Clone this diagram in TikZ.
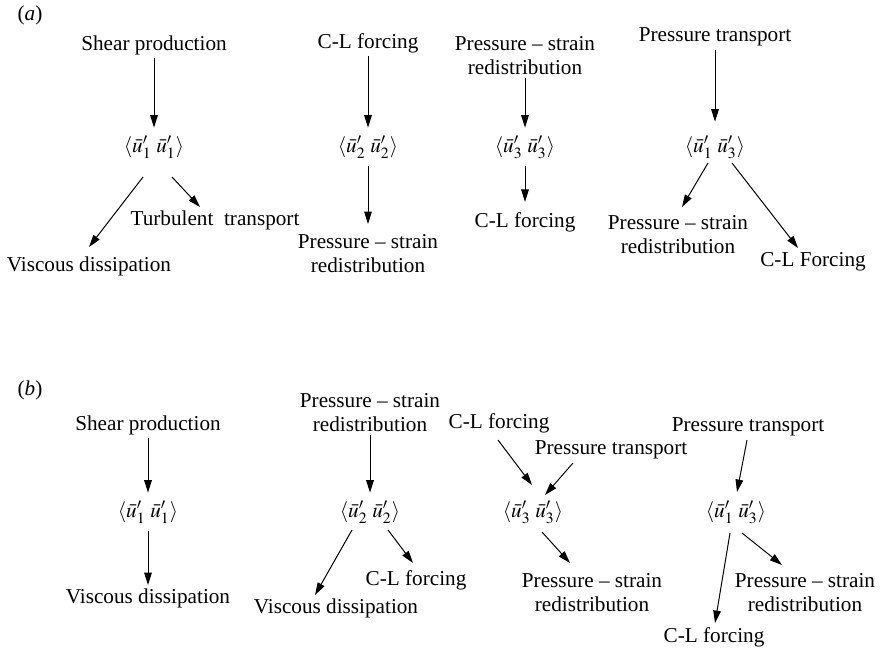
\documentclass[tikz,border=0pt]{standalone}
\usepackage{mathptmx}
\usepackage{fontspec}
\setmainfont{Liberation Serif}
\usetikzlibrary{arrows.meta}
\tikzstyle{term}=[align=center, inner sep=1.5pt, font=\fontsize{10.6}{12}\selectfont]
\tikzstyle{corr}=[inner xsep=1.5pt, inner ysep=4.2pt, text height=8pt, text depth=2.6pt, font=\fontsize{10.6}{12}\selectfont]
\tikzstyle{flow}=[line width=0.5pt, -{Triangle[length=6.2pt,width=3.8pt]}]
\newcommand{\term}{\node[term]}
\newcommand{\corr}{\node[corr]}
\newcommand{\uu}[2]{$\langle\bar{u}'_{#1}\;\bar{u}'_{#2}\rangle$}

\begin{document}
\begin{tikzpicture}[x=0.5pt,y=-0.5pt]
            \useasboundingbox (0,0) rectangle (881,653);
            % (a)
            \term (pa) at (30,15) {(\textit{a})};
            \term (sp) at (154,45) {Shear production};
            \corr (u11) at (154,147) {\uu{1}{1}};
            \term (vd) at (89,266) {Viscous dissipation};
            \term (tt) at (215,220) {Turbulent\ \ transport};
            \term (cl) at (368,43) {C-L forcing};
            \corr (u22) at (368,147) {\uu{2}{2}};
            \term (ps) at (368,253.5) {Pressure -- strain\\redistribution};
            \term (ps3) at (525,55.5) {Pressure -- strain\\redistribution};
            \corr (u33) at (525,147) {\uu{3}{3}};
            \term (cl3) at (525,222) {C-L forcing};
            \term (pt) at (715,37) {Pressure transport};
            \corr (u13) at (715,147) {\uu{1}{3}};
            \term (ps4) at (678,234.5) {Pressure -- strain\\redistribution};
            \term (cf) at (813,262) {C-L Forcing};
            \path[flow]
                (sp.south) edge (u11.north)
                ([shift={(-11,30)}]u11.center) edge ([shift={(0,-19)}]vd.center)
                ([shift={(18,30)}]u11.center) edge ([shift={(-15,-13)}]tt.center)
                (cl.south) edge (u22.north)
                (u22.south) edge[shorten >=3.5pt] (ps.north)
                (ps3.south) edge (u33.north)
                (u33.south) edge[shorten >=3.5pt] (cl3.north)
                (pt.south) edge[shorten >=3pt] (u13.north)
                ([shift={(-7,16)}]u13.center) edge ([shift={(4,-27.5)}]ps4.center)
                ([shift={(17,16)}]u13.center) edge ([shift={(-15,-14)}]cf.center)
            ;
            % (b)
            \term (pb) at (30,390) {(\textit{b})};
            \term (spb) at (148,425) {Shear production};
            \corr (u11b) at (148,512) {\uu{1}{1}};
            \term (vdb) at (148,598) {Viscous dissipation};
            \term (ps2b) at (370,412.5) {Pressure -- strain\\redistribution};
            \corr (u22b) at (370,512) {\uu{2}{2}};
            \term (vd2b) at (336,608) {Viscous dissipation};
            \term (cl2b) at (416,580) {C-L forcing};
            \term (cl3b) at (499,423) {C-L forcing};
            \term (pt3b) at (611,450) {Pressure transport};
            \corr (u33b) at (533,512) {\uu{3}{3}};
            \term (ps3b) at (592,592.5) {Pressure -- strain\\redistribution};
            \term (pt4b) at (748,427) {Pressure transport};
            \corr (u13b) at (736,512) {\uu{1}{3}};
            \term (cl4b) at (714,637) {C-L forcing};
            \term (ps4b) at (805,592.5) {Pressure -- strain\\redistribution};
            \path[flow]
                (spb.south) edge (u11b.north)
                (u11b.south) edge (vdb.north)
                (ps2b.south) edge (u22b.north)
                ([shift={(-18,18)}]u22b.center) edge ([shift={(-21,-13)}]vd2b.center)
                ([shift={(18,18)}]u22b.center) edge ([shift={(-3,-17)}]cl2b.center)
                ([shift={(-1,17)}]cl3b.center) edge ([shift={(-1,-27)}]u33b.center)
                ([shift={(-38,13)}]pt3b.center) edge ([shift={(12,-17)}]u33b.center)
                ([shift={(9,20)}]u33b.center) edge ([shift={(-22,-29.5)}]ps3b.center)
                ([shift={(-1,13)}]pt4b.center) edge ([shift={(1,-20)}]u13b.center)
                ([shift={(-6,21)}]u13b.center) edge ([shift={(1,-14)}]cl4b.center)
                ([shift={(6,21)}]u13b.center) edge ([shift={(-23,-27.5)}]ps4b.center)
            ;
        \end{tikzpicture}
\end{document}
